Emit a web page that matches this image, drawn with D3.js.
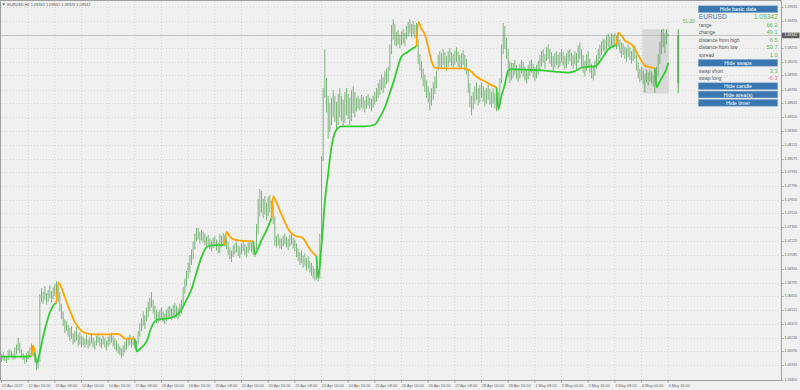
<!DOCTYPE html>
<html>
<head>
<meta charset="utf-8">
<script src="https://cdnjs.cloudflare.com/ajax/libs/d3/7.8.5/d3.min.js"></script>
<style>
    body { margin: 0; background: #f0f0f0; }
    svg { display: block; font-family: "Liberation Sans", Arial, sans-serif; }
</style>
</head>
<body>
<svg id="chart"></svg>
<script>
// EURUSD H1, 12 Apr - 4 May 2017
const symbol = 'EURUSD';
const period = 'H1';
const lastBarOHLC = [1.09341, 1.09361, 1.09329, 1.09342];
const bid = 1.09342;
const timer = '51:20';

const timeLabels = ['12 Apr 2017', '12 Apr 16:00', '13 Apr 08:00', '14 Apr 00:00', '14 Apr 16:00', '17 Apr 08:00',
    '18 Apr 00:00', '18 Apr 16:00', '19 Apr 08:00', '20 Apr 00:00', '20 Apr 16:00', '21 Apr 08:00', '24 Apr 00:00',
    '24 Apr 16:00', '25 Apr 08:00', '26 Apr 00:00', '26 Apr 16:00', '27 Apr 08:00', '28 Apr 00:00', '28 Apr 16:00',
    '1 May 08:00', '2 May 00:00', '2 May 16:00', '3 May 08:00', '4 May 00:00', '4 May 16:00'];
const barsPerLabel = 16;

const priceTicks = [1.05800, 1.05945, 1.06090, 1.06230, 1.06370, 1.06515, 1.06655, 1.06795, 1.06940, 1.07085,
    1.07225, 1.07365, 1.07510, 1.07650, 1.07790, 1.07935, 1.08075, 1.08215, 1.08360, 1.08505, 1.08645, 1.08785,
    1.08930, 1.09070, 1.09210, 1.09350, 1.09495, 1.09635];

const barLow = [
    1.0598,1.0600,1.0599,1.0597,1.0600,1.0604,1.0602,1.0600,1.0601,1.0606,1.0610,1.0607,1.0602,1.0600,1.0596,1.0598,1.0601,1.0603,1.0606,1.0604,
    1.0597,1.0590,1.0591,1.0598,1.0660,1.0658,1.0662,1.0657,1.0660,1.0664,1.0659,1.0663,1.0666,1.0668,1.0660,1.0650,1.0642,1.0635,1.0628,1.0630,
    1.0624,1.0620,1.0622,1.0616,1.0618,1.0620,1.0614,1.0616,1.0613,1.0615,1.0613,1.0616,1.0612,1.0614,1.0617,1.0613,1.0611,1.0615,1.0618,1.0614,
    1.0612,1.0616,1.0613,1.0610,1.0614,1.0616,1.0618,1.0614,1.0611,1.0609,1.0607,1.0605,1.0602,1.0604,1.0608,1.0611,1.0614,1.0616,1.0613,1.0615,
    1.0612,1.0610,1.0616,1.0624,1.0630,1.0635,1.0632,1.0640,1.0644,1.0650,1.0654,1.0648,1.0642,1.0638,1.0638,1.0640,1.0642,1.0639,1.0637,1.0640,
    1.0642,1.0644,1.0641,1.0643,1.0646,1.0644,1.0642,1.0645,1.0648,1.0656,1.0668,1.0676,1.0684,1.0690,1.0698,1.0704,1.0714,1.0722,1.0724,1.0720,
    1.0723,1.0721,1.0718,1.0716,1.0718,1.0714,1.0712,1.0715,1.0717,1.0713,1.0710,1.0710,1.0716,1.0719,1.0717,1.0714,1.0708,1.0704,1.0701,1.0706,
    1.0709,1.0711,1.0707,1.0705,1.0709,1.0712,1.0708,1.0706,1.0710,1.0713,1.0711,1.0708,1.0706,1.0714,1.0730,1.0748,1.0752,1.0746,1.0750,1.0744,
    1.0748,1.0752,1.0746,1.0740,1.0718,1.0716,1.0718,1.0715,1.0714,1.0717,1.0719,1.0716,1.0713,1.0717,1.0719,1.0715,1.0712,1.0706,1.0702,1.0698,
    1.0700,1.0695,1.0697,1.0692,1.0694,1.0690,1.0687,1.0684,1.0682,1.0683,1.0681,1.0684,1.0725,1.0805,1.0870,1.0855,1.0828,1.0835,1.0842,1.0850,
    1.0845,1.0838,1.0842,1.0850,1.0846,1.0840,1.0844,1.0852,1.0848,1.0842,1.0846,1.0854,1.0850,1.0856,1.0859,1.0857,1.0860,1.0858,1.0855,1.0859,
    1.0862,1.0858,1.0856,1.0860,1.0863,1.0866,1.0870,1.0873,1.0878,1.0875,1.0880,1.0884,1.0886,1.0898,1.0915,1.0930,1.0924,1.0923,1.0925,1.0921,
    1.0924,1.0926,1.0923,1.0930,1.0933,1.0936,1.0932,1.0935,1.0931,1.0928,1.0905,1.0898,1.0890,1.0882,1.0876,1.0870,1.0865,1.0857,1.0862,1.0868,
    1.0874,1.0880,1.0898,1.0902,1.0900,1.0904,1.0901,1.0898,1.0902,1.0906,1.0903,1.0900,1.0904,1.0907,1.0902,1.0899,1.0901,1.0904,1.0898,1.0894,
    1.0875,1.0860,1.0852,1.0858,1.0864,1.0868,1.0862,1.0865,1.0870,1.0866,1.0861,1.0864,1.0868,1.0863,1.0860,1.0864,1.0859,1.0856,1.0860,1.0865,
    1.0885,1.0915,1.0920,1.0910,1.0892,1.0885,1.0888,1.0890,1.0894,1.0889,1.0886,1.0890,1.0895,1.0892,1.0888,1.0885,1.0889,1.0893,1.0896,1.0891,
    1.0887,1.0890,1.0894,1.0898,1.0902,1.0906,1.0900,1.0908,1.0910,1.0905,1.0902,1.0898,1.0901,1.0904,1.0900,1.0902,1.0906,1.0903,1.0899,1.0901,
    1.0905,1.0908,1.0903,1.0900,1.0904,1.0898,1.0906,1.0910,1.0902,1.0896,1.0892,1.0898,1.0902,1.0896,1.0890,1.0888,1.0893,1.0900,1.0906,1.0910,
    1.0914,1.0918,1.0916,1.0920,1.0922,1.0919,1.0923,1.0921,1.0924,1.0920,1.0922,1.0916,1.0912,1.0914,1.0910,1.0907,1.0912,1.0909,1.0905,1.0908,
    1.0910,1.0898,1.0890,1.0886,1.0888,1.0884,1.0876,1.0886,1.0883,1.0887,1.0885,1.0882,1.0875,1.0882,1.0892,1.0905,1.0915,1.0922,1.0916,1.0925,
    1.0933];

const barHigh = [
    1.0606,1.0608,1.0605,1.0604,1.0610,1.0611,1.0609,1.0607,1.0613,1.0616,1.0623,1.0618,1.0611,1.0607,1.0604,1.0607,1.0609,1.0613,1.0617,1.0614,
    1.0608,1.0602,1.0600,1.0668,1.0674,1.0670,1.0676,1.0669,1.0672,1.0677,1.0671,1.0675,1.0678,1.0681,1.0675,1.0670,1.0658,1.0650,1.0642,1.0640,
    1.0636,1.0633,1.0635,1.0628,1.0630,1.0634,1.0626,1.0629,1.0625,1.0624,1.0622,1.0626,1.0621,1.0624,1.0627,1.0623,1.0620,1.0625,1.0628,1.0624,
    1.0622,1.0625,1.0623,1.0620,1.0624,1.0627,1.0628,1.0625,1.0622,1.0620,1.0617,1.0614,1.0612,1.0615,1.0619,1.0622,1.0624,1.0626,1.0622,1.0625,
    1.0621,1.0620,1.0630,1.0638,1.0643,1.0650,1.0646,1.0654,1.0660,1.0664,1.0670,1.0662,1.0656,1.0652,1.0650,1.0652,1.0654,1.0650,1.0648,1.0652,
    1.0655,1.0656,1.0653,1.0657,1.0659,1.0656,1.0654,1.0658,1.0662,1.0675,1.0684,1.0692,1.0700,1.0708,1.0714,1.0722,1.0730,1.0736,1.0736,1.0732,
    1.0734,1.0732,1.0730,1.0727,1.0729,1.0725,1.0723,1.0726,1.0728,1.0724,1.0721,1.0730,1.0728,1.0731,1.0729,1.0726,1.0722,1.0716,1.0713,1.0718,
    1.0720,1.0722,1.0718,1.0717,1.0720,1.0722,1.0719,1.0717,1.0721,1.0723,1.0721,1.0719,1.0716,1.0740,1.0766,1.0776,1.0774,1.0766,1.0769,1.0762,
    1.0768,1.0770,1.0764,1.0760,1.0748,1.0728,1.0730,1.0726,1.0725,1.0728,1.0730,1.0727,1.0725,1.0729,1.0731,1.0726,1.0724,1.0720,1.0715,1.0711,
    1.0713,1.0708,1.0710,1.0705,1.0707,1.0702,1.0700,1.0697,1.0694,1.0696,1.0692,1.0730,1.0810,1.0880,1.0920,1.0890,1.0872,1.0865,1.0870,1.0878,
    1.0872,1.0866,1.0874,1.0880,1.0872,1.0868,1.0876,1.0880,1.0874,1.0870,1.0878,1.0882,1.0876,1.0870,1.0872,1.0869,1.0873,1.0871,1.0868,1.0872,
    1.0874,1.0870,1.0869,1.0872,1.0876,1.0880,1.0885,1.0889,1.0894,1.0891,1.0898,1.0900,1.0902,1.0925,1.0945,1.0951,1.0946,1.0938,1.0940,1.0935,
    1.0938,1.0941,1.0937,1.0944,1.0948,1.0951,1.0946,1.0949,1.0945,1.0947,1.0930,1.0915,1.0908,1.0900,1.0894,1.0888,1.0882,1.0876,1.0880,1.0886,
    1.0892,1.0898,1.0914,1.0918,1.0916,1.0920,1.0917,1.0913,1.0918,1.0921,1.0917,1.0915,1.0919,1.0922,1.0918,1.0914,1.0916,1.0919,1.0914,1.0910,
    1.0900,1.0885,1.0872,1.0876,1.0882,1.0886,1.0880,1.0883,1.0886,1.0882,1.0878,1.0880,1.0884,1.0879,1.0876,1.0880,1.0875,1.0872,1.0876,1.0890,
    1.0925,1.0947,1.0944,1.0932,1.0920,1.0908,1.0906,1.0906,1.0909,1.0904,1.0900,1.0905,1.0909,1.0907,1.0902,1.0899,1.0904,1.0908,1.0909,1.0905,
    1.0901,1.0904,1.0908,1.0914,1.0918,1.0920,1.0915,1.0922,1.0925,1.0920,1.0917,1.0913,1.0916,1.0918,1.0914,1.0917,1.0920,1.0917,1.0913,1.0916,
    1.0919,1.0920,1.0916,1.0914,1.0918,1.0916,1.0924,1.0927,1.0920,1.0914,1.0908,1.0915,1.0918,1.0910,1.0905,1.0902,1.0908,1.0914,1.0920,1.0925,
    1.0928,1.0931,1.0930,1.0934,1.0936,1.0933,1.0937,1.0935,1.0937,1.0934,1.0936,1.0930,1.0927,1.0926,1.0923,1.0921,1.0925,1.0922,1.0918,1.0921,
    1.0924,1.0914,1.0906,1.0900,1.0902,1.0898,1.0895,1.0899,1.0896,1.0898,1.0897,1.0894,1.0892,1.0902,1.0915,1.0928,1.0940,1.0941,1.0936,1.0940,
    1.0936];

// smoothed trend line, read at these bars
const maBar = [0, 6, 12, 18, 19, 20, 21, 23, 25, 27, 29, 31, 33,
    34, 36, 38, 40, 42, 44, 46, 48, 51, 56, 62, 70, 72, 74, 80,
    81, 84, 87, 90, 92, 94, 100, 104, 108, 111, 114, 117, 120, 123, 126, 130, 134,
    135, 137, 139, 143, 147, 151, 152, 154, 156, 158, 160, 162,
    163, 165, 167, 170, 172, 175, 178, 180, 182, 184, 186, 189,
    190, 192, 194, 196, 198, 200, 202, 204, 210, 218, 224, 227, 230, 233, 236, 238, 240, 243, 246, 249,
    250, 252, 254, 256, 258, 260, 264, 270, 276, 280, 282, 284, 287, 290, 293, 297,
    298, 300, 302, 304, 306, 310, 316, 324, 332, 340, 344, 348, 352, 356, 358, 360, 362, 364, 367, 369,
    370, 372, 374, 376, 378, 380, 382, 384, 386, 389, 392,
    393, 395, 397, 399, 400];
const maPrice = [1.06035, 1.06035, 1.06036, 1.06038, 1.0615, 1.0608, 1.0597, 1.0608, 1.0624, 1.0638, 1.0649, 1.0656, 1.0659,
    1.0680, 1.0674, 1.0665, 1.0655, 1.0647, 1.0639, 1.0634, 1.0630, 1.06275, 1.06265, 1.06265, 1.0627, 1.0625, 1.0622, 1.0622,
    1.0609, 1.0613, 1.0619, 1.0634, 1.0640, 1.0642, 1.0643, 1.0645, 1.0652, 1.0662, 1.0673, 1.0690, 1.0706, 1.0716, 1.0718, 1.07183, 1.07185,
    1.0732, 1.0727, 1.07245, 1.0723, 1.07225, 1.07225, 1.0709, 1.0715, 1.07235, 1.0730, 1.07376, 1.0746,
    1.07685, 1.0762, 1.0754, 1.0742, 1.0735, 1.0729, 1.0727, 1.07265, 1.0723, 1.0717, 1.0712, 1.0707,
    1.0685, 1.0718, 1.0763, 1.0792, 1.0820, 1.0834, 1.0839, 1.08405, 1.08405, 1.08405, 1.08425, 1.0850, 1.0860, 1.0875, 1.0891, 1.0903, 1.09125, 1.09165, 1.0920, 1.0923,
    1.0948, 1.0941, 1.0935, 1.0922, 1.0908, 1.0901, 1.09003, 1.09003, 1.09003, 1.0899, 1.0897, 1.0893, 1.08895, 1.0887, 1.0884, 1.08808,
    1.0858, 1.0872, 1.0884, 1.0898, 1.08995, 1.08993, 1.08988, 1.08983, 1.0897, 1.0896, 1.08975, 1.0901, 1.0902, 1.09025, 1.0905, 1.0910, 1.0915, 1.0920, 1.0923, 1.09245,
    1.0937, 1.0934, 1.0929, 1.0927, 1.0925, 1.0920, 1.0914, 1.0908, 1.0903, 1.09015, 1.09005,
    1.08808, 1.0887, 1.0893, 1.0900, 1.0906];
const trendStart = [0, 19, 21, 34, 81, 135, 152, 163, 190, 250, 298, 370, 393];
const trendDir = ['up', 'down', 'up', 'down', 'up', 'down', 'up', 'down', 'up', 'down', 'up', 'down', 'up'];

// today's range box and daily candle
const dayBars = [385, 400];
const dayRange = [1.08745, 1.09407];
const dayOpen = 1.08851;
const candleBar = 406;

const panelButtons = ['Hide basic data', 'Hide swaps', 'Hide candle', 'Hide area(s)', 'Hide timer'];
const infoLabels = ['range', 'change', 'distance from high', 'distance from low', 'spread'];
const infoValues = ['66.2', '49.1', '6.5', '59.7', '1.0'];
const swapLabels = ['swap short', 'swap long'];
const swapValues = ['3.3', '-6.3'];

class PriceChart {
    constructor() {
        this.width = 800;
        this.height = 390;
        this.right = 781.5;
        this.bottom = 380.5;

        this.svg = d3.select('#chart')
            .attr('width', this.width)
            .attr('height', this.height)
        ;

        this.x = d3.scaleLinear()
            .domain([0, 400])
            .range([1.5, 668.2])
        ;
        this.y = d3.scaleLinear()
            .domain([priceTicks[0], priceTicks[priceTicks.length - 1]])
            .range([379.5, 7])
        ;

        this.drawFrame();
        this.drawBars();
        this.drawTrend();
        this.drawAxes();
        this.drawPanel();
    }

    drawFrame() {
        const svg = this.svg;
        svg.append('rect')
            .attr('width', this.width).attr('height', this.height)
            .attr('fill', '#f0f0f0');

        const grid = svg.append('g')
            .attr('stroke', '#c8c8c8')
            .attr('stroke-width', 0.6)
            .attr('stroke-dasharray', '1,2');

        grid.selectAll('.hgrid')
            .data(priceTicks)
            .enter().append('line')
            .attr('x1', 1).attr('x2', this.right)
            .attr('y1', d => Math.round(this.y(d)) + 0.5)
            .attr('y2', d => Math.round(this.y(d)) + 0.5);

        grid.selectAll('.vgrid')
            .data(timeLabels.slice(1))
            .enter().append('line')
            .attr('x1', (d, i) => this.x((i + 1) * barsPerLabel))
            .attr('x2', (d, i) => this.x((i + 1) * barsPerLabel))
            .attr('y1', 1).attr('y2', this.bottom);

        // today's high/low area
        const half = (this.x(1) - this.x(0)) / 2;
        svg.append('rect')
            .attr('x', this.x(dayBars[0]) - half)
            .attr('width', this.x(dayBars[1]) - this.x(dayBars[0]) + 2 * half)
            .attr('y', this.y(dayRange[1]))
            .attr('height', this.y(dayRange[0]) - this.y(dayRange[1]))
            .attr('fill', '#d9d9d9');

        // bid line
        svg.append('line')
            .attr('x1', 1).attr('x2', this.right)
            .attr('y1', this.y(bid)).attr('y2', this.y(bid))
            .attr('stroke', '#a9a9a9')
            .attr('stroke-width', 0.6);
    }

    drawBars() {
        const bars = barHigh.map((h, i) => ({i: i, high: h, low: barLow[i]}));
        this.svg.append('g')
            .selectAll('line')
            .data(bars)
            .enter().append('line')
            .attr('x1', d => this.x(d.i)).attr('x2', d => this.x(d.i))
            .attr('y1', d => this.y(d.high)).attr('y2', d => this.y(d.low))
            .attr('stroke', '#3f973f')
            .attr('stroke-opacity', 0.65)
            .attr('stroke-width', 1);

        // daily candle at the right
        const cx = this.x(candleBar);
        const c = this.svg.append('g').attr('stroke', '#4cb84c');
        c.append('line')
            .attr('x1', cx).attr('x2', cx)
            .attr('y1', this.y(dayRange[1])).attr('y2', this.y(dayRange[0]))
            .attr('stroke-width', 1);
        c.append('line')
            .attr('x1', cx).attr('x2', cx)
            .attr('y1', this.y(bid)).attr('y2', this.y(dayOpen))
            .attr('stroke-width', 1.8);

        this.svg.append('text')
            .attr('x', cx + 4.5).attr('y', 21)
            .attr('dominant-baseline', 'central')
            .attr('font-size', 4.8)
            .attr('fill', '#4cb84c')
            .text(timer);
    }

    drawTrend() {
        const pts = maBar.map((b, i) => ({bar: b, price: maPrice[i]}));
        const line = d3.line()
            .x(d => this.x(d.bar))
            .y(d => this.y(d.price))
            .curve(d3.curveMonotoneX);

        const g = this.svg.append('g')
            .attr('fill', 'none')
            .attr('stroke-width', 1.8)
            .attr('stroke-linejoin', 'round');

        trendStart.forEach((s, k) => {
            const e = k + 1 < trendStart.length ? trendStart[k + 1] : Infinity;
            const seg = pts.filter(p => p.bar >= s && p.bar < e);
            const prev = pts.filter(p => p.bar < s).pop();
            if (prev) seg.unshift(prev);
            g.append('path')
                .datum(seg)
                .attr('d', line)
                .attr('stroke', trendDir[k] === 'up' ? '#32cd32' : '#ffa500');
        });
    }

    drawAxes() {
        const svg = this.svg;
        const axis = svg.append('g').attr('stroke', '#8c8c8c').attr('stroke-width', 0.8);
        axis.append('line').attr('x1', 0.5).attr('x2', this.right).attr('y1', 0.5).attr('y2', 0.5);
        axis.append('line').attr('x1', 0.5).attr('x2', 0.5).attr('y1', 0.5).attr('y2', this.bottom);
        axis.append('line').attr('x1', this.right).attr('x2', this.right).attr('y1', 0.5).attr('y2', this.bottom);
        axis.append('line').attr('x1', 0.5).attr('x2', this.right).attr('y1', this.bottom).attr('y2', this.bottom);

        axis.selectAll('.pt')
            .data(priceTicks)
            .enter().append('line')
            .attr('x1', this.right).attr('x2', this.right + 2)
            .attr('y1', d => Math.round(this.y(d)) + 0.5)
            .attr('y2', d => Math.round(this.y(d)) + 0.5);

        axis.selectAll('.tt')
            .data(timeLabels)
            .enter().append('line')
            .attr('x1', (d, i) => this.x(i * barsPerLabel))
            .attr('x2', (d, i) => this.x(i * barsPerLabel))
            .attr('y1', this.bottom).attr('y2', this.bottom + 2);

        svg.append('g')
            .selectAll('text')
            .data(priceTicks)
            .enter().append('text')
            .attr('x', this.right + 3)
            .attr('y', d => this.y(d))
            .attr('dominant-baseline', 'central')
            .attr('font-size', 3.5)
            .attr('fill', '#666')
            .text(d => d.toFixed(5));

        svg.append('g')
            .selectAll('text')
            .data(timeLabels)
            .enter().append('text')
            .attr('x', (d, i) => this.x(i * barsPerLabel) + 0.3)
            .attr('y', this.bottom + 4.6)
            .attr('dominant-baseline', 'central')
            .attr('font-size', 3.9)
            .attr('fill', '#666')
            .text(d => d);

        // bid label on the price axis
        svg.append('rect')
            .attr('x', this.right + 0.5).attr('y', this.y(bid) - 2.8)
            .attr('width', 17.5).attr('height', 5.6)
            .attr('fill', '#5e5e5e');
        svg.append('text')
            .attr('x', this.right + 3).attr('y', this.y(bid))
            .attr('dominant-baseline', 'central')
            .attr('font-size', 3.5)
            .attr('fill', '#fff')
            .text(bid.toFixed(5));

        // header
        svg.append('path')
            .attr('d', 'M2.5,3.6 L5.3,3.6 L3.9,5.6 Z')
            .attr('fill', '#555');
        svg.append('text')
            .attr('x', 7.3).attr('y', 4.7)
            .attr('dominant-baseline', 'central')
            .attr('font-size', 3.9)
            .attr('fill', '#555')
            .text(`${symbol},${period}  ` + lastBarOHLC.map(v => v.toFixed(5)).join(' '));
    }

    drawPanel() {
        const g = this.svg.append('g');
        const left = 698.3, right = 777.7;
        const buttonTops = [5.8, 59.4, 82.8, 91.1, 99.4];

        panelButtons.forEach((label, i) => {
            g.append('rect')
                .attr('x', left).attr('y', buttonTops[i])
                .attr('width', right - left).attr('height', 6.8)
                .attr('fill', '#3a76b0')
                .attr('stroke', '#8fb1d3')
                .attr('stroke-width', 0.5);
            g.append('text')
                .attr('x', (left + right) / 2).attr('y', buttonTops[i] + 3.5)
                .attr('text-anchor', 'middle')
                .attr('dominant-baseline', 'central')
                .attr('font-size', 5.3)
                .attr('fill', '#fff')
                .text(label);
        });

        g.append('text')
            .attr('x', left + 0.5).attr('y', 16.7)
            .attr('dominant-baseline', 'central')
            .attr('font-size', 6.6)
            .attr('fill', '#3a76b0')
            .text(symbol);
        g.append('text')
            .attr('x', right).attr('y', 16.7)
            .attr('text-anchor', 'end')
            .attr('dominant-baseline', 'central')
            .attr('font-size', 6.6)
            .attr('fill', '#5cb85c')
            .text(bid.toFixed(5));

        const rows = infoLabels.map((l, i) => ({label: l, value: infoValues[i], y: 25 + i * 7.4}))
            .concat(swapLabels.map((l, i) => ({label: l, value: swapValues[i], y: 70.8 + i * 7.4})));

        rows.forEach(r => {
            g.append('text')
                .attr('x', left + 0.5).attr('y', r.y)
                .attr('dominant-baseline', 'central')
                .attr('font-size', 5)
                .attr('fill', '#555')
                .text(r.label);
            g.append('text')
                .attr('x', right).attr('y', r.y)
                .attr('text-anchor', 'end')
                .attr('dominant-baseline', 'central')
                .attr('font-size', 5.8)
                .attr('fill', +r.value < 0 ? '#e8708c' : '#5cb85c')
                .text(r.value);
        });
    }
}

new PriceChart();
</script>
</body>
</html>
